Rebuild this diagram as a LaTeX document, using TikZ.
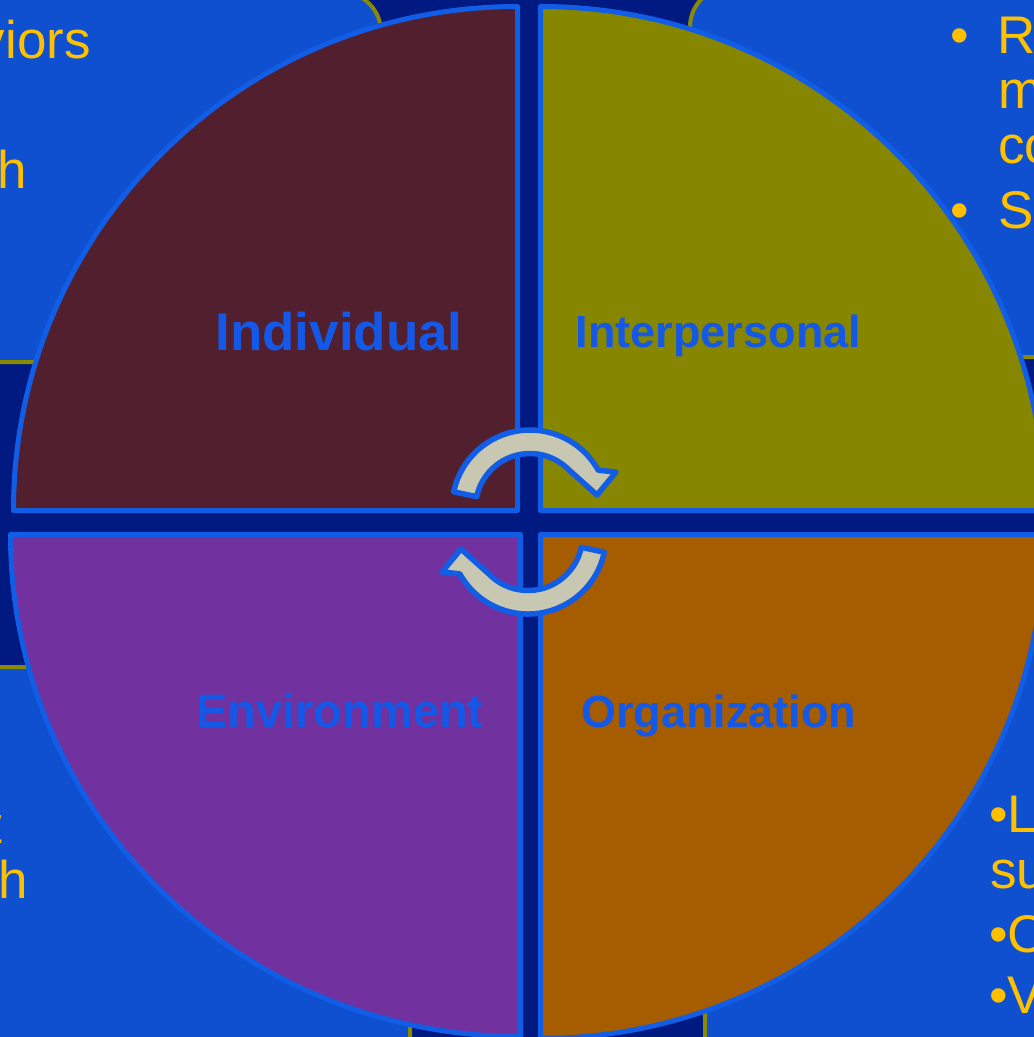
\documentclass[tikz,border=0pt]{standalone}
\usepackage{fontspec}
\setmainfont{Liberation Sans}
\definecolor{navy}{HTML}{001A82}
\definecolor{boxblue}{HTML}{0E50D0}
\definecolor{boxrim}{HTML}{8A8A00}
\definecolor{rim}{HTML}{125DE6}
\definecolor{tlfill}{HTML}{521F2E}
\definecolor{trfill}{HTML}{878600}
\definecolor{blfill}{HTML}{71319F}
\definecolor{brfill}{HTML}{A65C00}
\definecolor{labelblue}{HTML}{1358E6}
\definecolor{gold}{HTML}{FFC000}
\definecolor{arrowgray}{HTML}{C8C8B2}
\begin{document}
\begin{tikzpicture}[x=1pt,y=-1pt,
  panel/.style={fill=boxblue, draw=boxrim, line width=4pt, rounded corners=40pt},
  sector/.style={draw=rim, line width=5pt, line join=round},
  label/.style={text=labelblue, inner sep=0pt, anchor=base},
  note/.style={font=\fontsize{53}{53}\selectfont, text=gold, inner sep=0pt, anchor=base west},
  arrowband/.style={fill=arrowgray, draw=rim, line width=5.5pt, line join=round},
  cyclearrow/.pic={
    \draw[arrowband]
      ([shift={(192:78)}]1,-14) arc[start angle=192, end angle=331, radius=78]
      -- (87,-50) -- (68,-27) -- (39,-53)
      -- ([shift={(318:54.5)}]1,-14) arc[start angle=318, end angle=192, radius=54.5]
      -- cycle;
  },
]
\useasboundingbox (0,0) rectangle (1034,1037);
\clip (0,0) rectangle (1034,1037);
\fill[navy] (0,0) rectangle (1034,1037);

% text panels behind the wheel
\draw[panel] (-60,-8) rectangle (381,362);
\draw[panel] (690,-13) rectangle (1100,357);
\draw[panel] (-60,667) rectangle (410,1100);
\draw[panel] (705,630) rectangle (1100,1100);

% panel texts
\node[note, anchor=base east] (tl1) at (91,58) {viors};
\node[note] (tl2) at (-3,188) {h};

\node[note] (tr1b) at (950,53) {•};
\node[note] (tr1) at (997.5,53) {R};
\node[note] (tr2) at (998.5,108) {m};
\node[note] (tr3) at (998,163) {co};
\node[note] (tr4b) at (950,228) {•};
\node[note] (tr4) at (998,228) {S};

\node[note] (bl1) at (-13,843) {t};
\node[note] (bl2) at (-2,898) {h};

\node[note] (br1) at (989,832) {•L};
\node[note] (br2) at (990,888) {su};
\node[note] (br3) at (989,952) {•C};
\node[note] (br4) at (989,1013) {•V};

% four quadrants of the wheel
\draw[sector, fill=tlfill] (517.5,510.5) -- ++(-504,0)
  arc[start angle=180, end angle=270, radius=504] -- cycle;
\draw[sector, fill=trfill] (540.5,510.5) -- ++(0,-504)
  arc[start angle=270, end angle=360, radius=504] -- cycle;
\draw[sector, fill=brfill] (540.5,534.5) -- ++(504,0)
  arc[start angle=0, end angle=90, radius=504] -- cycle;
\draw[sector, fill=blfill] (520.5,534.5) -- ++(0,502)
  arc[start angle=90, end angle=180, x radius=510, y radius=502] -- cycle;

% circular arrows in the middle
\pic at (529,522) {cyclearrow};
\pic[rotate=180] at (529,522) {cyclearrow};

% quadrant labels
\node[label, font=\bfseries\fontsize{53}{53}\selectfont] (ind) at (339,350) {Individual};
\node[label, font=\bfseries\fontsize{45}{45}\selectfont] (inter) at (718.5,347) {Interpersonal};
\node[label, font=\bfseries\fontsize{47}{47}\selectfont] (env) at (340,727) {Environment};
\node[label, font=\bfseries\fontsize{45}{45}\selectfont] (org) at (718.5,727) {Organization};
\end{tikzpicture}
\end{document}
